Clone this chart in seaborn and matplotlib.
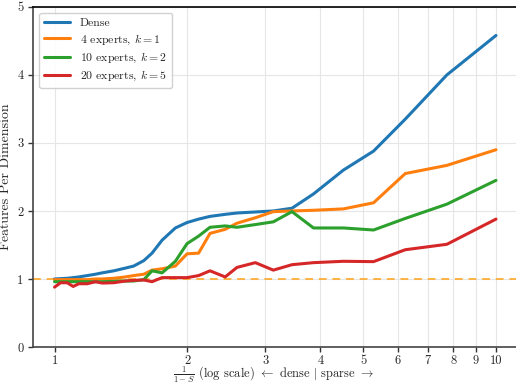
import matplotlib
matplotlib.use("Agg")
import matplotlib.pyplot as plt
import seaborn as sns
import pandas as pd
from matplotlib.ticker import FixedLocator, NullLocator, FixedFormatter

# x = 1/(1-S)
x_vals = [1.0, 1.032, 1.068, 1.102, 1.135, 1.186, 1.238, 1.282, 1.362, 1.447,
          1.511, 1.593, 1.663, 1.752, 1.878, 1.996, 2.12, 2.25, 2.435, 2.59,
          2.85, 3.13, 3.45, 3.86, 4.51, 5.28, 6.23, 7.74, 10.0]

dense = [1.00, 1.005, 1.01, 1.02, 1.03, 1.05, 1.07, 1.09, 1.12, 1.16,
         1.19, 1.27, 1.38, 1.57, 1.75, 1.83, 1.88, 1.92, 1.95, 1.97,
         1.985, 2.00, 2.04, 2.25, 2.60, 2.88, 3.35, 4.00, 4.58]
moe_4_1 = [0.99, 0.99, 0.99, 0.99, 0.99, 0.99, 1.00, 1.00, 1.01, 1.03,
           1.05, 1.07, 1.13, 1.15, 1.19, 1.37, 1.38, 1.67, 1.73, 1.82,
           1.90, 1.99, 2.00, 2.01, 2.03, 2.12, 2.55, 2.67, 2.90]
moe_10_2 = [0.96, 0.96, 0.96, 0.96, 0.96, 0.96, 0.96, 0.96, 0.965, 0.97,
            0.97, 0.99, 1.12, 1.09, 1.26, 1.52, 1.63, 1.76, 1.78, 1.76,
            1.80, 1.84, 1.99, 1.75, 1.75, 1.72, 1.89, 2.10, 2.45]
moe_20_5 = [0.88, 0.945, 0.945, 0.89, 0.93, 0.93, 0.96, 0.94, 0.945, 0.97,
            0.98, 0.985, 0.96, 1.02, 1.02, 1.02, 1.05, 1.12, 1.03, 1.17,
            1.24, 1.13, 1.21, 1.24, 1.26, 1.255, 1.43, 1.51, 1.88]

series_labels = ["Dense", r"4 experts, $k=1$", r"10 experts, $k=2$", r"20 experts, $k=5$"]
series_values = [dense, moe_4_1, moe_10_2, moe_20_5]
series_colors = ["#1f77b4", "#ff7f0e", "#2ca02c", "#d62728"]

x_ticks = [1, 2, 3, 4, 5, 6, 7, 8, 9, 10]
x_ticklabels = ["1", "2", "3", "4", "5", "6", "7", "8", "9", "10"]
y_ticks = [0, 1, 2, 3, 4, 5]

sns.set_style("ticks")
plt.rcParams["font.family"] = "serif"
plt.rcParams["font.serif"] = ["cmr10", "DejaVu Serif"]
plt.rcParams["mathtext.fontset"] = "cm"
plt.rcParams["axes.formatter.use_mathtext"] = True

fig = plt.figure(figsize=(5.16, 3.83), dpi=100)
ax = fig.add_axes([0.0645, 0.094, 0.9355, 0.888])

for lab, vals, col in zip(series_labels, series_values, series_colors):
    df = pd.DataFrame({"x": x_vals, "y": vals})
    sns.lineplot(data=df, x="x", y="y", ax=ax, color=col, lw=2.2, label=lab)

ax.axhline(1.0, color="#ffa726", ls=(0, (4, 3)), lw=1.4, alpha=0.85, zorder=1)

ax.set_xscale("log")
ax.set_xlim(0.895, 11.1)
ax.set_ylim(0, 5)
ax.xaxis.set_major_locator(FixedLocator(x_ticks))
ax.xaxis.set_major_formatter(FixedFormatter(x_ticklabels))
ax.xaxis.set_minor_locator(NullLocator())
ax.set_yticks(y_ticks)
ax.set_yticklabels([str(v) for v in y_ticks])
ax.tick_params(axis="both", labelsize=9, length=3.5, width=1.0, color="#333333")
ax.tick_params(axis="x", pad=2.5)

ax.grid(True, color="#e6e6e6", lw=0.8)
ax.set_axisbelow(True)

for side in ["left", "bottom"]:
    ax.spines[side].set_color("#444444")
    ax.spines[side].set_linewidth(1.2)
ax.spines["top"].set_color("black")
ax.spines["top"].set_linewidth(1.2)
ax.spines["right"].set_visible(False)

ax.set_xlabel(r"$\frac{1}{1-S}$ (log scale) $\leftarrow$ dense $|$ sparse $\rightarrow$", fontsize=9)
ax.xaxis.label.set_va("center")
ax.xaxis.set_label_coords(0.499, -0.082)
ax.set_ylabel("Features Per Dimension", fontsize=10, labelpad=4)

ax.legend(loc="upper left", fontsize=8.5, frameon=True, framealpha=0.9,
          edgecolor="#cccccc", borderpad=0.45, labelspacing=0.33, handlelength=2.2)

fig.savefig("out.png", dpi=100)
